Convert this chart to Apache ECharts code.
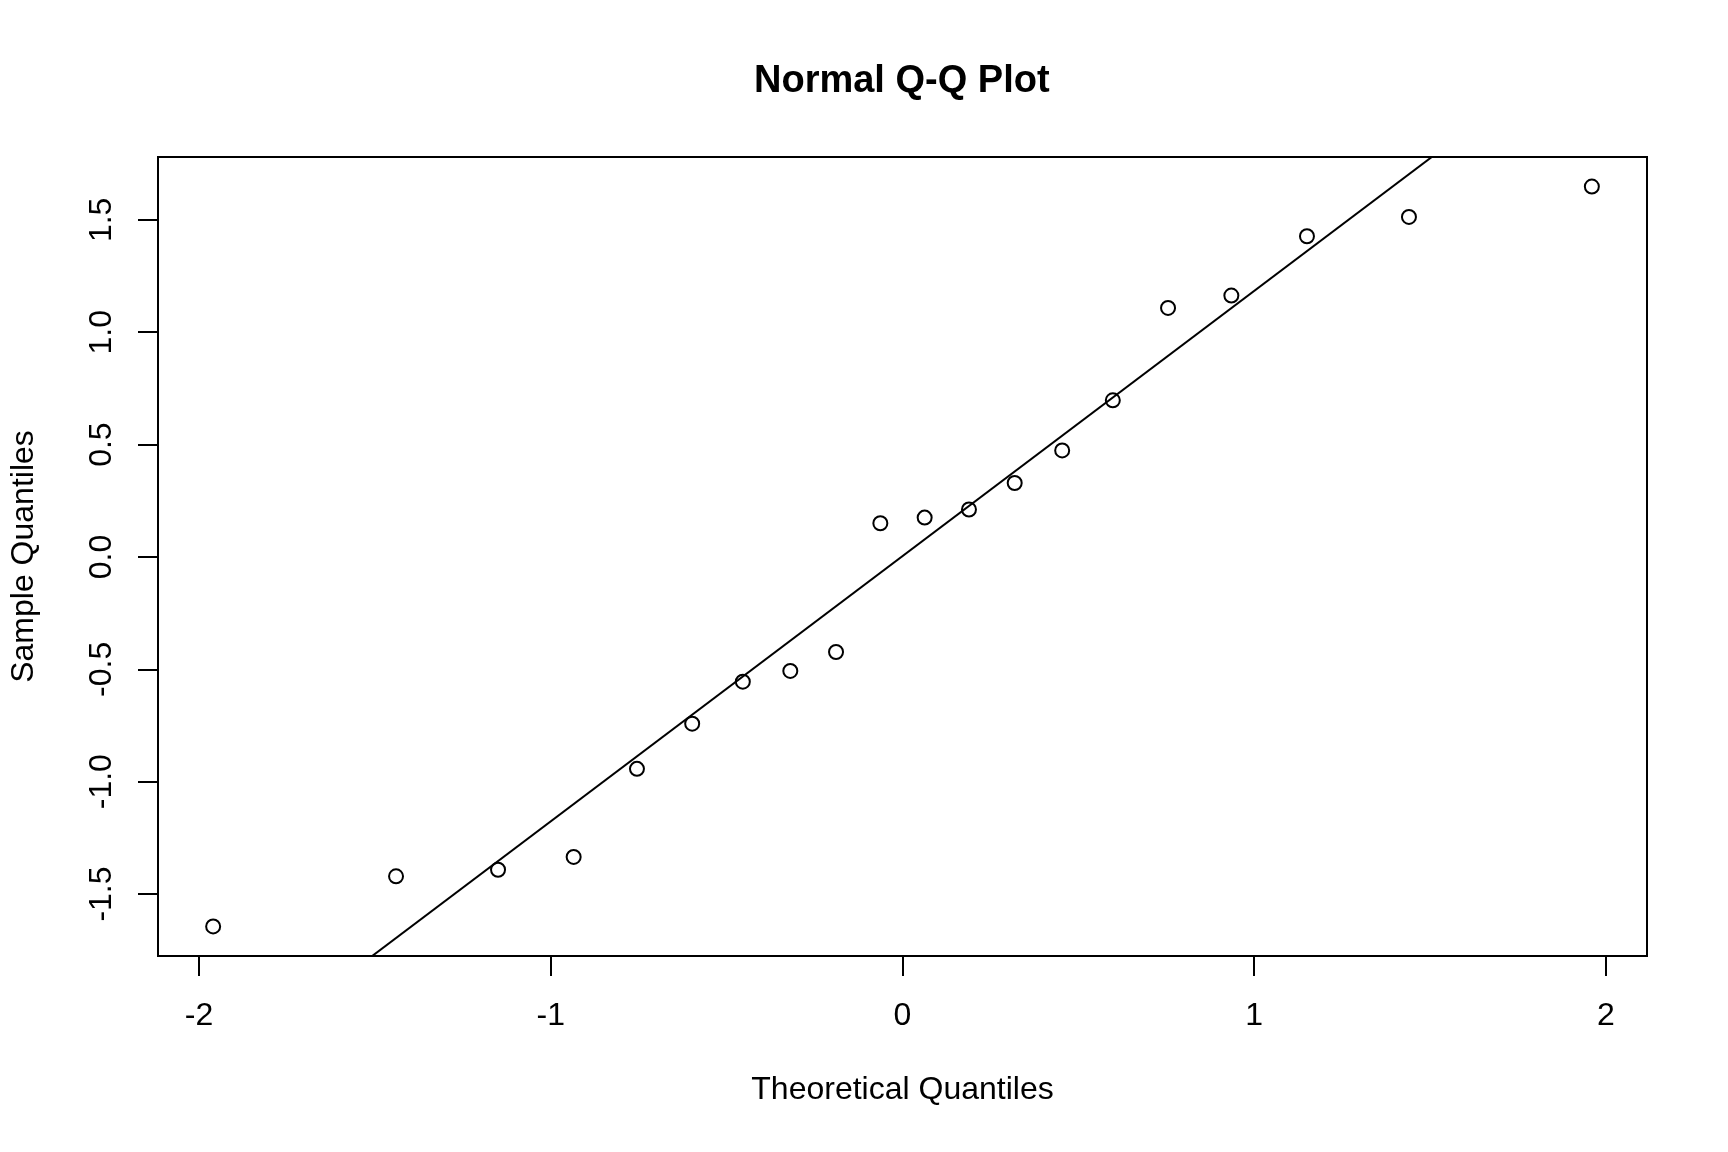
<!DOCTYPE html>
<html>
<head>
<meta charset="utf-8">
<script src="https://cdn.jsdelivr.net/npm/echarts@6/dist/echarts.min.js"></script>
<style>
html,body{margin:0;padding:0;background:#fff;}
#chart{width:1728px;height:1152px;}
</style>
</head>
<body>
<div id="chart"></div>
<script>
// Theoretical quantiles (x) and sample quantiles (y)
var theoretical = [-1.960, -1.440, -1.150, -0.935, -0.755, -0.598, -0.454, -0.319, -0.189, -0.063,
                    0.063, 0.189, 0.319, 0.454, 0.598, 0.755, 0.935, 1.150, 1.440, 1.960];
var sample = [-1.644, -1.421, -1.392, -1.335, -0.943, -0.742, -0.555, -0.507, -0.423, 0.150,
               0.175, 0.211, 0.329, 0.474, 0.697, 1.108, 1.163, 1.427, 1.513, 1.648];
var xTicks = [-2, -1, 0, 1, 2];
var yTicks = [-1.5, -1.0, -0.5, 0.0, 0.5, 1.0, 1.5];
var titleText = 'Normal Q-Q Plot';
var xName = 'Theoretical Quantiles';
var yName = 'Sample Quantiles';

// R-style axis range: data range extended by 4% on each side
function rRange(arr) {
  var mn = Math.min.apply(null, arr), mx = Math.max.apply(null, arr);
  var d = (mx - mn) * 0.04;
  return [mn - d, mx + d];
}
var xr = rRange(theoretical), yr = rRange(sample);

// qqline: through first and third quartiles (type 7)
function quantile7(arr, p) {
  var s = arr.slice().sort(function (a, b) { return a - b; });
  var h = (s.length - 1) * p;
  var lo = Math.floor(h);
  return s[lo] + (h - lo) * (s[Math.min(lo + 1, s.length - 1)] - s[lo]);
}
var zq = 0.6744898;
var q1 = quantile7(sample, 0.25), q3 = quantile7(sample, 0.75);
var slope = (q3 - q1) / (2 * zq);
var intercept = q1 + zq * slope;
var lineData = [[xr[0], intercept + slope * xr[0]], [xr[1], intercept + slope * xr[1]]];

var pts = theoretical.map(function (x, i) { return [x, sample[i]]; });

var FONT = '"Liberation Sans", Arial, Helvetica, sans-serif';
var GRID = {left: 157, right: 81, top: 157, bottom: 196};
var W = 1728;
var plotCenterX = GRID.left + (W - GRID.left - GRID.right) / 2;
var mctx = document.createElement('canvas').getContext('2d');
mctx.font = 'bold 38px ' + FONT;
var titleW = mctx.measureText(titleText).width;

var chart = echarts.init(document.getElementById('chart'), null, {renderer: 'canvas'});
chart.setOption({
  animation: false,
  backgroundColor: '#ffffff',
  title: {
    text: titleText,
    left: Math.round(plotCenterX - titleW / 2),
    top: 63,
    padding: 0,
    textStyle: {fontFamily: FONT, fontSize: 38, fontWeight: 'bold', color: '#000'}
  },
  grid: {
    left: GRID.left, right: GRID.right, top: GRID.top, bottom: GRID.bottom,
    show: true, borderColor: '#000', borderWidth: 2, backgroundColor: 'transparent',
    containLabel: false
  },
  xAxis: {
    type: 'value',
    min: xr[0], max: xr[1],
    name: xName,
    nameLocation: 'middle',
    nameGap: 118,
    nameTextStyle: {fontFamily: FONT, fontSize: 32, color: '#000'},
    axisLine: {show: false, onZero: false},
    splitLine: {show: false},
    axisTick: {show: true, inside: false, length: 20, customValues: xTicks,
               lineStyle: {color: '#000', width: 2}},
    axisLabel: {show: true, margin: 44, customValues: xTicks,
                fontFamily: FONT, fontSize: 32, color: '#000',
                formatter: function (v) { return String(v); }}
  },
  yAxis: {
    type: 'value',
    min: yr[0], max: yr[1],
    name: yName,
    nameLocation: 'middle',
    nameRotate: 90,
    nameGap: 118,
    nameTextStyle: {fontFamily: FONT, fontSize: 32, color: '#000'},
    axisLine: {show: false, onZero: false},
    splitLine: {show: false},
    axisTick: {show: true, inside: false, length: 20, customValues: yTicks,
               lineStyle: {color: '#000', width: 2}},
    axisLabel: {show: true, rotate: 90, margin: 40, customValues: yTicks,
                fontFamily: FONT, fontSize: 32, color: '#000',
                formatter: function (v) { return v.toFixed(1); }}
  },
  series: [
    {
      type: 'line',
      data: lineData,
      showSymbol: false,
      symbol: 'none',
      clip: true,
      lineStyle: {color: '#000', width: 2},
      silent: true,
      z: 2
    },
    {
      type: 'scatter',
      data: pts,
      symbol: 'circle',
      symbolSize: 14,
      itemStyle: {color: 'rgba(0,0,0,0)', borderColor: '#000', borderWidth: 2, opacity: 1},
      z: 3
    }
  ]
});
</script>
</body>
</html>
